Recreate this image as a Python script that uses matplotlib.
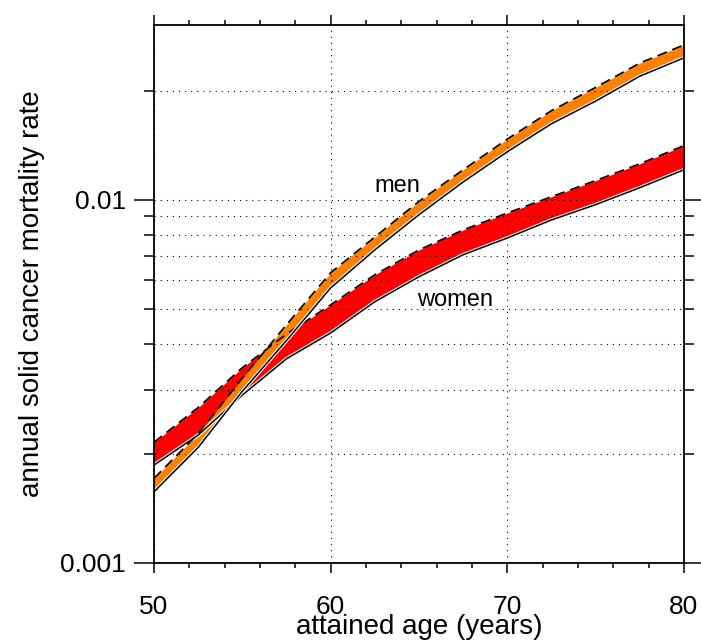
import matplotlib.pyplot as plt
import matplotlib.patheffects as pe
from matplotlib.ticker import FixedLocator, MultipleLocator, NullFormatter

plt.rcParams['font.family'] = ['Liberation Sans', 'DejaVu Sans']

# values (annual rate, log scale)
age = [50, 52.5, 55, 57.5, 60, 62.5, 65, 67.5, 70, 72.5, 75, 77.5, 80]
men_upper = [0.00171, 0.00227, 0.00323, 0.00453, 0.0063, 0.0079, 0.0099,
             0.0121, 0.0147, 0.0176, 0.0204, 0.0238, 0.0267]
men_lower = [0.00157, 0.00208, 0.00297, 0.0041, 0.00572, 0.00728, 0.0091,
             0.0112, 0.01356, 0.0162, 0.0187, 0.0219, 0.0246]
women_upper = [0.00215, 0.00268, 0.00345, 0.00427, 0.00514, 0.00622, 0.00728,
               0.00826, 0.0092, 0.0102, 0.0113, 0.01257, 0.0141]
women_lower = [0.00186, 0.00225, 0.0029, 0.00365, 0.0043, 0.00524, 0.00614,
               0.00706, 0.00785, 0.0088, 0.0097, 0.0108, 0.0121]

major_y = [0.001, 0.01]
major_y_labels = ['0.001', '0.01']
minor_y = [0.002, 0.003, 0.004, 0.005, 0.006, 0.007, 0.008, 0.009, 0.02]
major_x = [50, 60, 70, 80]


def draw_band(ax, upper, lower, color):
    ax.fill_between(age, lower, upper, color=color, lw=0)
    ax.plot(age, upper, color='black', lw=1.2, dashes=(6, 3.5))
    ax.plot(age, lower, color='black', lw=1.1,
            path_effects=[pe.Stroke(linewidth=2.6, foreground='white'), pe.Normal()])


fig = plt.figure(figsize=(7.01, 6.44), dpi=100)
ax = fig.add_axes([0.2197, 0.1258, 0.756, 0.8354])

ax.set_yscale('log')
ax.set_xlim(50, 80)
ax.set_ylim(0.001, 0.0303)

ax.xaxis.set_major_locator(FixedLocator(major_x))
ax.xaxis.set_minor_locator(MultipleLocator(2))
ax.yaxis.set_major_locator(FixedLocator(major_y))
ax.yaxis.set_minor_locator(FixedLocator(minor_y))
ax.set_yticklabels(major_y_labels)
ax.yaxis.set_minor_formatter(NullFormatter())

grid_style = dict(color='black', ls=(0, (1, 4.5)), lw=0.8)
ax.grid(True, which='major', axis='x', **grid_style)
ax.grid(True, which='both', axis='y', **grid_style)

draw_band(ax, women_upper, women_lower, '#ff0000')
draw_band(ax, men_upper, men_lower, '#ff8000')

ax.text(63.75, 0.01052, 'men', fontsize=17, ha='center', va='baseline')
ax.text(67.04, 0.00511, 'women', fontsize=17, ha='center', va='baseline')

for s in ax.spines.values():
    s.set_linewidth(1.3)

ax.tick_params(which='both', direction='out', top=True, right=True, width=1.1,
               labelsize=19)
ax.tick_params(axis='x', which='major', length=7.2, pad=15.5)
ax.tick_params(axis='x', which='minor', length=3.6)
ax.tick_params(axis='y', which='major', length=14.4, pad=6)
ax.tick_params(axis='y', which='minor', length=7.2)

ax.set_xlabel('attained age (years)', fontsize=20, labelpad=-3.5)
ax.set_ylabel('annual solid cancer mortality rate', fontsize=20, labelpad=11)

fig.savefig('out.png', dpi=100)
